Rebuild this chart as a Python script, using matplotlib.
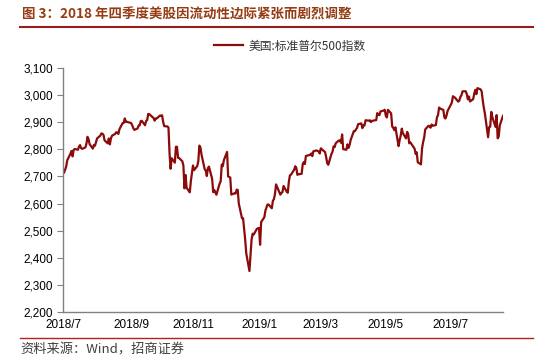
import matplotlib
matplotlib.use("Agg")
import numpy as np
import pandas as pd
import matplotlib.pyplot as plt
from matplotlib.lines import Line2D

plt.rcParams['font.family'] = ['Liberation Sans', 'Noto Sans CJK SC', 'DejaVu Sans']

# S&P 500 closes, trading days per month
trade_days = {
    "2018-07": [2, 3, 5, 6, 9, 10, 11, 12, 13, 16, 17, 18, 19, 20, 23, 24, 25, 26, 27, 30, 31],
    "2018-08": [1, 2, 3, 6, 7, 8, 9, 10, 13, 14, 15, 16, 17, 20, 21, 22, 23, 24, 27, 28, 29, 30, 31],
    "2018-09": [4, 5, 6, 7, 10, 11, 12, 13, 14, 17, 18, 19, 20, 21, 24, 25, 26, 27, 28],
    "2018-10": [1, 2, 3, 4, 5, 8, 9, 10, 11, 12, 15, 16, 17, 18, 19, 22, 23, 24, 25, 26, 29, 30, 31],
    "2018-11": [1, 2, 5, 6, 7, 8, 9, 12, 13, 14, 15, 16, 19, 20, 21, 23, 26, 27, 28, 29, 30],
    "2018-12": [3, 4, 6, 7, 10, 11, 12, 13, 14, 17, 18, 19, 20, 21, 24, 26, 27, 28, 31],
    "2019-01": [2, 3, 4, 7, 8, 9, 10, 11, 14, 15, 16, 17, 18, 22, 23, 24, 25, 28, 29, 30, 31],
    "2019-02": [1, 4, 5, 6, 7, 8, 11, 12, 13, 14, 15, 19, 20, 21, 22, 25, 26, 27, 28],
    "2019-03": [1, 4, 5, 6, 7, 8, 11, 12, 13, 14, 15, 18, 19, 20, 21, 22, 25, 26, 27, 28, 29],
    "2019-04": [1, 2, 3, 4, 5, 8, 9, 10, 11, 12, 15, 16, 17, 18, 22, 23, 24, 25, 26, 29, 30],
    "2019-05": [1, 2, 3, 6, 7, 8, 9, 10, 13, 14, 15, 16, 17, 20, 21, 22, 23, 24, 28, 29, 30, 31],
    "2019-06": [3, 4, 5, 6, 7, 10, 11, 12, 13, 14, 17, 18, 19, 20, 21, 24, 25, 26, 27, 28],
    "2019-07": [1, 2, 3, 5, 8, 9, 10, 11, 12, 15, 16, 17, 18, 19, 22, 23, 24, 25, 26, 29, 30, 31],
    "2019-08": [1, 2, 5, 6, 7, 8, 9, 12, 13, 14, 15, 16, 19],
}

closes = [
    # 2018-07
    2726.71, 2713.22, 2736.61, 2759.82, 2784.17, 2793.84, 2774.02, 2798.29, 2801.31, 2798.43, 2809.55,
    2815.62, 2804.49, 2801.83, 2806.98, 2820.40, 2846.07, 2837.44, 2818.82, 2802.60, 2816.29,
    # 2018-08
    2813.36, 2827.22, 2840.35, 2850.40, 2858.45, 2857.70, 2853.58, 2833.28, 2821.93, 2839.96, 2818.37,
    2840.69, 2850.13, 2857.05, 2862.96, 2861.82, 2856.98, 2874.69, 2896.74, 2897.52, 2914.04, 2901.13, 2901.52,
    # 2018-09
    2896.72, 2888.60, 2878.05, 2871.68, 2877.13, 2887.89, 2888.92, 2904.18, 2904.98, 2888.80,
    2904.31, 2907.95, 2930.75, 2929.67, 2919.37, 2915.56, 2905.97, 2914.00, 2913.98,
    # 2018-10
    2924.59, 2923.43, 2925.51, 2901.61, 2885.57, 2884.43, 2880.34, 2785.68, 2728.37, 2767.13, 2750.79,
    2809.92, 2809.21, 2768.78, 2767.78, 2755.88, 2740.69, 2656.10, 2705.57, 2658.69, 2641.25, 2682.63, 2711.74,
    # 2018-11
    2740.37, 2723.06, 2738.31, 2755.45, 2813.89, 2806.83, 2781.01, 2726.22, 2722.18, 2701.58, 2730.20,
    2736.27, 2690.73, 2641.89, 2649.93, 2632.56, 2673.45, 2682.17, 2743.79, 2737.80, 2760.17,
    # 2018-12
    2790.37, 2700.06, 2695.95, 2633.08, 2637.72, 2636.78, 2651.07, 2650.54, 2599.95, 2545.94,
    2546.16, 2506.96, 2467.42, 2416.62, 2351.10, 2467.70, 2488.83, 2485.74, 2506.85,
    # 2019-01
    2510.03, 2447.89, 2531.94, 2549.69, 2574.41, 2584.96, 2596.64, 2596.26, 2582.61, 2610.30, 2616.10,
    2635.96, 2670.71, 2632.90, 2638.70, 2642.33, 2664.76, 2643.85, 2640.00, 2681.05, 2704.10,
    # 2019-02
    2706.53, 2724.87, 2737.70, 2731.61, 2706.05, 2707.88, 2709.80, 2744.73, 2753.03, 2745.73,
    2775.60, 2779.76, 2784.70, 2774.88, 2792.67, 2796.11, 2793.90, 2792.38, 2784.49,
    # 2019-03
    2803.69, 2792.81, 2789.65, 2771.45, 2748.93, 2743.07, 2783.30, 2791.52, 2810.92, 2808.48, 2822.48,
    2832.94, 2832.57, 2824.23, 2854.88, 2800.71, 2798.36, 2818.46, 2805.37, 2815.44, 2834.40,
    # 2019-04
    2867.19, 2867.24, 2873.40, 2879.39, 2892.74, 2895.77, 2878.20, 2888.21, 2888.32, 2907.41, 2905.58,
    2907.06, 2900.45, 2905.03, 2907.97, 2933.68, 2927.25, 2926.17, 2939.88, 2943.03, 2945.83,
    # 2019-05
    2923.73, 2917.52, 2945.64, 2932.47, 2884.05, 2879.42, 2870.72, 2881.40, 2811.87, 2834.41, 2850.96,
    2876.32, 2859.53, 2840.23, 2864.36, 2856.27, 2822.24, 2826.06, 2802.39, 2783.02, 2788.86, 2752.06,
    # 2019-06
    2744.45, 2803.27, 2826.15, 2843.49, 2873.34, 2886.73, 2885.72, 2879.84, 2891.64, 2886.98,
    2889.67, 2917.75, 2926.46, 2954.18, 2950.46, 2945.35, 2917.38, 2913.78, 2924.92, 2941.76,
    # 2019-07
    2964.33, 2973.01, 2995.82, 2990.41, 2975.95, 2979.63, 2993.07, 2999.91, 3013.77, 3014.30, 3004.04,
    2984.42, 2995.11, 2976.61, 2985.03, 3005.47, 3019.56, 3003.67, 3025.86, 3020.97, 3013.18, 2980.38,
    # 2019-08
    2953.56, 2932.05, 2844.74, 2881.77, 2883.98, 2938.09, 2918.65, 2882.70, 2926.32, 2840.60,
    2847.60, 2888.68, 2923.65,
]

tick_dates = ["2018-07-02", "2018-09-04", "2018-11-01", "2019-01-02", "2019-03-01", "2019-05-01", "2019-07-01"]
tick_labels = ["2018/7", "2018/9", "2018/11", "2019/1", "2019/3", "2019/5", "2019/7"]
y_ticks = [2200, 2300, 2400, 2500, 2600, 2700, 2800, 2900, 3000, 3100]

title = "图 3：2018 年四季度美股因流动性边际紧张而剧烈调整"
series_name = "美国:标准普尔500指数"
source = "资料来源：Wind，招商证券"

dates = pd.to_datetime(["{}-{:02d}".format(m, d) for m, days in trade_days.items() for d in days])
df = pd.DataFrame({"date": dates, "close": closes})

fig = plt.figure(figsize=(5.5, 3.61), dpi=100)
ax = fig.add_axes([63 / 550, 1 - 312 / 361, 440 / 550, 244 / 361])

line_color = "#8B0A0A"
ax.plot(df["date"], df["close"], color=line_color, lw=1.6)

ax.set_xlim(df["date"].iloc[0], df["date"].iloc[-1])
ax.set_ylim(2200, 3100)
ax.set_yticks(y_ticks)
ax.set_yticklabels(["{:,}".format(v) for v in y_ticks], fontsize=8.5)
ax.set_xticks(pd.to_datetime(tick_dates))
ax.set_xticklabels(tick_labels, fontsize=8.5)
ax.tick_params(axis="x", length=0, pad=5)
ax.tick_params(axis="y", length=4, width=0.8, color="#808080", pad=3)

for s in ["top", "right"]:
    ax.spines[s].set_visible(False)
for s in ["left", "bottom"]:
    ax.spines[s].set_color("#808080")
    ax.spines[s].set_linewidth(1.0)

# legend
leg = ax.legend([Line2D([0], [0], color=line_color, lw=1.6)], [series_name],
                loc="center", bbox_to_anchor=(290 / 550, 1 - 46 / 361),
                bbox_transform=fig.transFigure, frameon=False,
                handlelength=2.4, handletextpad=0.5,
                prop={"family": ["Noto Sans CJK SC"], "size": 8.5})
for t in leg.get_texts():
    t.set_color("#333333")

# title and bands
fig.text(22 / 550, 1 - 15 / 361, title, fontsize=9.7, fontweight="bold",
         color="#963C14", family=["Noto Sans CJK SC"], va="center", ha="left")
fig.add_artist(Line2D([20 / 550, 533 / 550], [1 - 27 / 361, 1 - 27 / 361],
                      transform=fig.transFigure, color="#9B1B1B", lw=1.5))
fig.add_artist(Line2D([20 / 550, 533 / 550], [1 - 338 / 361, 1 - 338 / 361],
                      transform=fig.transFigure, color="#B22222", lw=1.0))
fig.text(20 / 550, 1 - 350 / 361, source, fontsize=9.5, color="#404040",
         family=["Noto Sans CJK SC"], va="center", ha="left")

fig.savefig("out.png", dpi=100)
